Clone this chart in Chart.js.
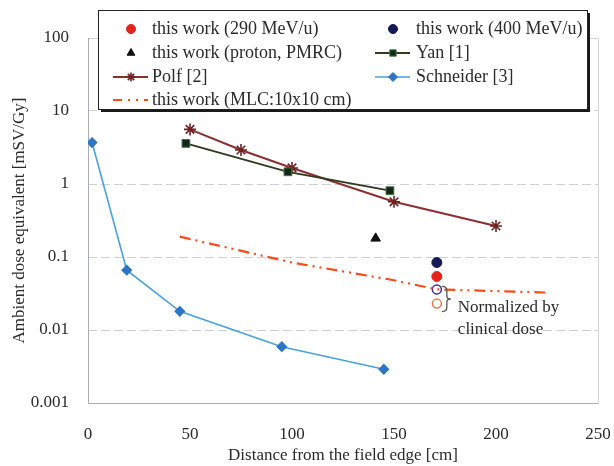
<!DOCTYPE html>
<html lang="en">
<head>
<meta charset="UTF-8" />
<title>Ambient dose equivalent vs distance</title>
<script src="https://cdn.jsdelivr.net/npm/chart.js"></script>
<style>
  html, body { margin: 0; padding: 0; background: #fff; }
</style>
</head>
<body>
<canvas id="chart" width="614" height="466"></canvas>
<script>
  // measured points, distance [cm] / H*(10) [mSv/Gy]
  const mev290X = [171];
  const mev290Y = [0.054];
  const mev400X = [171];
  const mev400Y = [0.084];
  const protonX = [141];
  const protonY = [0.18];
  const norm400Y = [0.036];
  const norm290Y = [0.023];

  const yanX = [48, 98, 148];
  const yanY = [3.6, 1.47, 0.81];
  const polfX = [50, 75, 100, 150, 200];
  const polfY = [5.6, 2.92, 1.66, 0.57, 0.266];
  const schneiderX = [2, 19, 45, 95, 145];
  const schneiderY = [3.7, 0.066, 0.018, 0.0059, 0.0029];
  const mlcX = [45, 100, 150, 171, 226];
  const mlcY = [0.19, 0.084, 0.048, 0.036, 0.0325];

  const xTicks = [0, 50, 100, 150, 200, 250];
  const yTicks = [0.001, 0.01, 0.1, 1, 10, 100];
  const yTickLabels = ['0.001', '0.01', '0.1', '1', '10', '100'];

  const SERIF = "'Liberation Serif', 'Times New Roman', serif";
  const TEXT = '#2b2b2b';

  const pts = (xs, ys) => xs.map((x, i) => ({ x: x, y: ys[i] }));

  const datasets = [
    { label: 'this work (MLC:10x10 cm)', data: pts(mlcX, mlcY), borderColor: '#ff4a1a',
      borderWidth: 2.2, borderDash: [11, 5, 2, 5, 2, 5], pointRadius: 0, showLine: true },
    { label: 'Schneider [3]', data: pts(schneiderX, schneiderY), borderColor: '#4aa3de', borderWidth: 1.6,
      pointStyle: 'rectRot', pointRadius: 4.5, pointBackgroundColor: '#2f74c4', pointBorderColor: '#2f74c4',
      showLine: true },
    { label: 'Yan [1]', data: pts(yanX, yanY), borderColor: '#2f3a1e', borderWidth: 1.8,
      pointStyle: 'rect', pointRadius: 5.5, pointBackgroundColor: '#16241a', pointBorderColor: '#3f7a3a',
      pointBorderWidth: 1, showLine: true },
    { label: 'Polf [2]', data: pts(polfX, polfY), borderColor: '#8e2e30', borderWidth: 2,
      pointStyle: 'star', pointRadius: 6, pointBorderColor: '#6e2222', pointBorderWidth: 1.6, showLine: true },
    { label: 'this work (proton, PMRC)', data: pts(protonX, protonY), pointStyle: 'triangle', pointRadius: 5.5,
      pointBackgroundColor: '#111', pointBorderColor: '#111', showLine: false },
    { label: 'this work (400 MeV/u)', data: pts(mev400X, mev400Y), pointRadius: 5,
      pointBackgroundColor: '#141a55', pointBorderColor: '#141a55', showLine: false },
    { label: 'this work (290 MeV/u)', data: pts(mev290X, mev290Y), pointRadius: 5,
      pointBackgroundColor: '#e4231d', pointBorderColor: '#e4231d', showLine: false },
    { label: 'normalized 400', data: pts(mev400X, norm400Y), pointRadius: 4.5, pointBorderWidth: 1.5,
      pointBackgroundColor: '#fff', pointBorderColor: '#3a2fa0', showLine: false },
    { label: 'normalized 290', data: pts(mev290X, norm290Y), pointRadius: 4.5, pointBorderWidth: 1.5,
      pointBackgroundColor: '#fff', pointBorderColor: '#f07a55', showLine: false }
  ];

  // frame: light box on top/right, grey axis lines left/bottom
  const framePlugin = {
    id: 'frame',
    beforeDatasetsDraw(chart) {
      const { ctx, chartArea: a } = chart;
      ctx.save();
      ctx.lineWidth = 1;
      ctx.strokeStyle = '#d4d6da';
      ctx.beginPath();
      ctx.moveTo(a.left, a.top + 0.5);
      ctx.lineTo(a.right + 0.5, a.top + 0.5);
      ctx.lineTo(a.right + 0.5, a.bottom);
      ctx.stroke();
      ctx.strokeStyle = '#a9acb2';
      ctx.beginPath();
      ctx.moveTo(a.left + 0.5, a.top);
      ctx.lineTo(a.left + 0.5, a.bottom + 0.5);
      ctx.lineTo(a.right + 0.5, a.bottom + 0.5);
      ctx.stroke();
      ctx.restore();
    }
  };

  // brace and note beside the normalized points
  const notePlugin = {
    id: 'note',
    afterDatasetsDraw(chart) {
      const { ctx, scales } = chart;
      const x = scales.x.getPixelForValue(mev290X[0]) + 9;
      const y0 = scales.y.getPixelForValue(norm400Y[0]) - 3;
      const y1 = scales.y.getPixelForValue(norm290Y[0]) + 8;
      const ym = (y0 + y1) / 2;
      ctx.save();
      ctx.strokeStyle = '#555';
      ctx.lineWidth = 1.3;
      ctx.beginPath();
      ctx.moveTo(x - 4, y0);
      ctx.quadraticCurveTo(x + 1, y0, x + 1, y0 + 4);
      ctx.lineTo(x + 1, ym - 3);
      ctx.quadraticCurveTo(x + 1, ym, x + 5, ym);
      ctx.quadraticCurveTo(x + 1, ym, x + 1, ym + 3);
      ctx.lineTo(x + 1, y1 - 4);
      ctx.quadraticCurveTo(x + 1, y1, x - 4, y1);
      ctx.stroke();
      ctx.fillStyle = TEXT;
      ctx.font = '17px ' + SERIF;
      ctx.textBaseline = 'middle';
      ctx.textAlign = 'left';
      ctx.fillText('Normalized by', x + 12, y1 - 4);
      ctx.fillText('clinical dose', x + 12, y1 + 18);
      ctx.restore();
    }
  };

  // boxed two-column legend with drop shadow
  const legendItems = [
    { text: 'this work (290 MeV/u)', col: 0, row: 0, ds: 6 },
    { text: 'this work (400 MeV/u)', col: 1, row: 0, ds: 5 },
    { text: 'this work (proton, PMRC)', col: 0, row: 1, ds: 4 },
    { text: 'Yan [1]', col: 1, row: 1, ds: 2, line: true },
    { text: 'Polf [2]', col: 0, row: 2, ds: 3, line: true },
    { text: 'Schneider [3]', col: 1, row: 2, ds: 1, line: true },
    { text: 'this work (MLC:10x10 cm)', col: 0, row: 3, ds: 0, line: true }
  ];
  const boxPlugin = {
    id: 'box',
    afterDraw(chart) {
      const ctx = chart.ctx;
      const L = 98, T = 10, R = 587, B = 109;
      ctx.save();
      ctx.fillStyle = '#fff';
      ctx.fillRect(L, T, R - L, B - T);
      ctx.fillStyle = '#1a1a1a';
      ctx.fillRect(L + 3, B, R - L, 3);
      ctx.fillRect(R, T + 3, 3, B - T);
      ctx.strokeStyle = '#222';
      ctx.lineWidth = 1;
      ctx.strokeRect(L + 0.5, T + 0.5, R - L, B - T);
      const colMark = [131, 393], colText = [152, 416], rows = [29, 53, 77, 100];
      legendItems.forEach(it => {
        const d = datasets[it.ds];
        const cx = colMark[it.col], cy = rows[it.row];
        if (it.line) {
          ctx.save();
          ctx.strokeStyle = d.borderColor;
          ctx.lineWidth = d.borderWidth;
          ctx.setLineDash(it.ds === 0 ? [9, 6, 2, 6, 2, 6] : []);
          ctx.beginPath();
          ctx.moveTo(cx - 18, cy);
          ctx.lineTo(cx + 17, cy);
          ctx.stroke();
          ctx.restore();
        }
        if (d.pointRadius > 0) {
          ctx.fillStyle = d.pointBackgroundColor || '#fff';
          ctx.strokeStyle = d.pointBorderColor;
          ctx.lineWidth = d.pointBorderWidth || 1;
          Chart.helpers.drawPoint(ctx, {
            pointStyle: d.pointStyle || 'circle',
            radius: Math.min(d.pointRadius, 4.5),
            borderWidth: d.pointBorderWidth || 1,
            rotation: 0
          }, cx, cy);
        }
        ctx.fillStyle = TEXT;
        ctx.font = '18px ' + SERIF;
        ctx.textBaseline = 'middle';
        ctx.textAlign = 'left';
        ctx.fillText(it.text, colText[it.col], cy);
      });
      ctx.restore();
    }
  };

  new Chart(document.getElementById('chart'), {
    type: 'line',
    data: { datasets: datasets },
    options: {
      responsive: false,
      animation: false,
      layout: { autoPadding: false, padding: { top: 38, right: 16, left: 0, bottom: 0 } },
      plugins: { legend: { display: false }, tooltip: { enabled: false } },
      scales: {
        x: {
          type: 'linear', min: 0, max: 250,
          afterFit(s) { s.height = 63; s.paddingLeft = 0; s.paddingRight = 0; },
          afterBuildTicks(s) { s.ticks = xTicks.map(v => ({ value: v })); },
          grid: { display: false, drawTicks: false },
          border: { display: false },
          ticks: { padding: 21, color: TEXT, font: { family: SERIF, size: 17 }, maxRotation: 0 },
          title: { display: true, text: 'Distance from the field edge [cm]', color: TEXT,
            font: { family: SERIF, size: 17 }, padding: { top: 0, bottom: 0 } }
        },
        y: {
          type: 'logarithmic', min: 0.001, max: 100,
          afterFit(s) { s.width = 88; s.paddingTop = 0; s.paddingBottom = 0; },
          afterBuildTicks(s) { s.ticks = yTicks.map(v => ({ value: v })); },
          grid: { color: '#cdd0d4', lineWidth: 1, drawTicks: false },
          border: { display: false, dash: [9, 4] },
          ticks: {
            padding: 19, color: TEXT, font: { family: SERIF, size: 17 },
            callback: v => yTickLabels[yTicks.indexOf(v)]
          },
          title: { display: true, text: 'Ambient dose equivalent [mSV/Gy]', color: TEXT,
            font: { family: SERIF, size: 17 }, padding: { top: 9, bottom: 0 } }
        }
      }
    },
    plugins: [framePlugin, notePlugin, boxPlugin]
  });
</script>
</body>
</html>
